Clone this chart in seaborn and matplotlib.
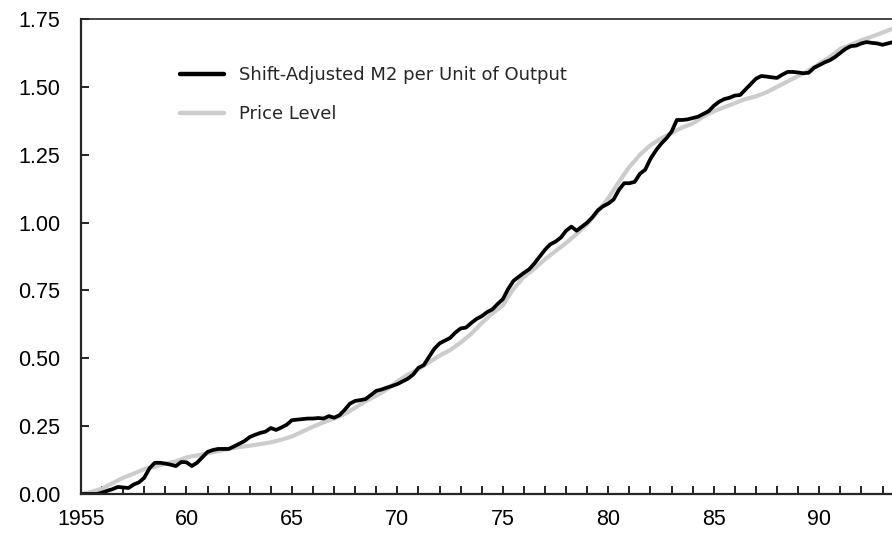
import numpy as np
import pandas as pd
import seaborn as sns
import matplotlib.pyplot as plt
from matplotlib.ticker import MultipleLocator, FixedLocator


# Shift-adjusted M2 per unit of output, quarterly 1955Q1 - 1993Q3
m2_start = 1955.0
m2_values = [
	0.000, 0.000, 0.000, 0.000, 0.005, 0.012, 0.018, 0.026,
	0.024, 0.022, 0.035, 0.043, 0.060, 0.095, 0.115, 0.115,
	0.112, 0.108, 0.103, 0.118, 0.117, 0.103, 0.115, 0.135,
	0.155, 0.162, 0.166, 0.166, 0.166, 0.175, 0.185, 0.195,
	0.210, 0.218, 0.225, 0.230, 0.243, 0.236, 0.245, 0.255,
	0.272, 0.274, 0.276, 0.278, 0.278, 0.280, 0.278, 0.287,
	0.281, 0.290, 0.310, 0.333, 0.343, 0.346, 0.350, 0.365,
	0.380, 0.385, 0.392, 0.398, 0.405, 0.415, 0.425, 0.440,
	0.465, 0.475, 0.505, 0.535, 0.555, 0.565, 0.575, 0.595,
	0.610, 0.613, 0.630, 0.645, 0.655, 0.670, 0.680, 0.700,
	0.718, 0.755, 0.785, 0.800, 0.815, 0.828, 0.850, 0.875,
	0.900, 0.920, 0.930, 0.945, 0.970, 0.985, 0.970, 0.985,
	1.000, 1.020, 1.045, 1.060, 1.070, 1.085, 1.120, 1.145,
	1.145, 1.150, 1.180, 1.195, 1.235, 1.265, 1.290, 1.310,
	1.335, 1.378, 1.378, 1.380, 1.385, 1.390, 1.400, 1.410,
	1.430, 1.445, 1.455, 1.460, 1.468, 1.470, 1.490, 1.510,
	1.530, 1.540, 1.538, 1.535, 1.533, 1.545, 1.555, 1.555,
	1.553, 1.550, 1.552, 1.570, 1.580, 1.590, 1.598, 1.610,
	1.625, 1.640, 1.650, 1.652, 1.660, 1.665, 1.662, 1.660,
	1.655, 1.660, 1.665,
]

# Price level, semi-annual 1955 - 1993.5
price_start = 1955.0
price_values = [
	0.000, 0.008, 0.020, 0.040, 0.060, 0.075, 0.092, 0.100,
	0.112, 0.120, 0.135, 0.142, 0.150, 0.158, 0.166, 0.173,
	0.178, 0.184, 0.190, 0.200, 0.212, 0.230, 0.248, 0.264,
	0.278, 0.295, 0.318, 0.342, 0.362, 0.385, 0.415, 0.440,
	0.460, 0.485, 0.510, 0.530, 0.558, 0.590, 0.630, 0.665,
	0.695, 0.755, 0.800, 0.830, 0.865, 0.895, 0.925, 0.958,
	0.995, 1.040, 1.090, 1.150, 1.205, 1.250, 1.285, 1.310,
	1.330, 1.350, 1.365, 1.390, 1.410, 1.425, 1.440, 1.455,
	1.465, 1.480, 1.500, 1.520, 1.540, 1.560, 1.585, 1.610,
	1.640, 1.655, 1.672, 1.685, 1.700, 1.715,
]

m2_label = "Shift-Adjusted M2 per Unit of Output"
price_label = "Price Level"
x_tick_years = [1955, 1960, 1965, 1970, 1975, 1980, 1985, 1990]
x_tick_labels = ["1955", "60", "65", "70", "75", "80", "85", "90"]
y_ticks = [0.0, 0.25, 0.5, 0.75, 1.0, 1.25, 1.5, 1.75]

df_m2 = pd.DataFrame({"year": m2_start + 0.25 * np.arange(len(m2_values)), "value": m2_values})
df_price = pd.DataFrame({"year": price_start + 0.5 * np.arange(len(price_values)), "value": price_values})


sns.set_style("ticks")
plt.rcParams['font.family'] = ['Liberation Sans', 'DejaVu Sans']

fig = plt.figure(figsize=(8.92, 5.33), dpi=100)
ax = fig.add_axes([81/892, 39/533, 1 - 81/892, 475/533])

sns.lineplot(data=df_price, x="year", y="value", color="#cccccc", linewidth=3.0, label=price_label, ax=ax)
sns.lineplot(data=df_m2, x="year", y="value", color="black", linewidth=2.7, label=m2_label, ax=ax)

ax.set_xlim(1955, 1993.45)
ax.set_ylim(0, 1.75)
ax.set_xlabel("")
ax.set_ylabel("")

ax.xaxis.set_major_locator(FixedLocator(x_tick_years))
ax.set_xticklabels(x_tick_labels)
ax.xaxis.set_minor_locator(MultipleLocator(1))
ax.set_yticks(y_ticks)
ax.set_yticklabels(["{:.2f}".format(v) for v in y_ticks])

ax.tick_params(axis="both", which="both", direction="in", length=6, width=1.2, colors="black")
ax.tick_params(axis="x", which="both", top=False, pad=11, labelsize=15.5)
ax.tick_params(axis="y", which="both", right=False, pad=15, labelsize=15.5)

for side in ["left", "bottom"]:
	ax.spines[side].set_linewidth(1.6)
ax.spines["top"].set_linewidth(1.2)
ax.spines["right"].set_visible(False)

# legend, M2 first
handles, labels = ax.get_legend_handles_labels()
leg = ax.legend(handles[::-1], labels[::-1], loc="upper left", bbox_to_anchor=(0.102, 0.935),
	frameon=False, handlelength=2.45, handletextpad=0.83, labelspacing=1.18,
	prop={"family": "DejaVu Sans", "size": 13})
for line in leg.get_lines():
	line.set_linewidth(3.2)

plt.savefig("out.png", dpi=100)
